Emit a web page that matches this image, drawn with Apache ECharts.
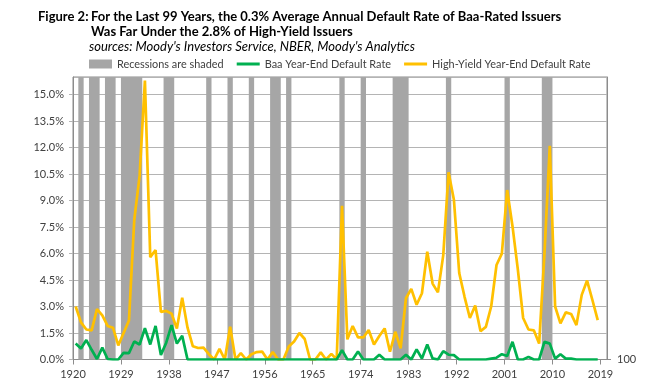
<!DOCTYPE html>
<html><head><meta charset="utf-8">
<script src="https://cdn.jsdelivr.net/npm/echarts@6/dist/echarts.min.js"></script>
<style>html,body{margin:0;padding:0;background:#fff}#c{width:670px;height:389px}</style>
</head><body><div id="c"></div>
<script>
const firstYear = 1920;
const tickYears = [1920, 1929, 1938, 1947, 1956, 1965, 1974, 1983, 1992, 2001, 2010, 2019];
const recessionYears = [1921, 1923, 1924, 1926, 1927, 1929, 1930, 1931, 1932, 1937, 1938, 1945, 1949, 1953, 1957, 1958, 1960, 1970, 1974, 1980, 1981, 1982, 1990, 2001, 2008, 2009];
// High-yield year-end default rate (%), 1920..2018
const hyRate = [
  3.0, 2.1, 1.7, 1.65, 2.85, 2.5, 1.9, 1.8, 0.8, 1.5,
  2.2, 7.9, 10.4, 15.8, 5.8, 6.2, 2.7, 2.75, 2.6, 1.75,
  3.5, 1.8, 0.75, 0.65, 0.67, 0.3, 0.0, 0.6, 0.0, 1.85,
  0.0, 0.36, 0.0, 0.3, 0.42, 0.45, 0.0, 0.42, 0.0, 0.0,
  0.74, 1.02, 1.5, 1.16, 0.0, 0.0, 0.4, 0.0, 0.32, 0.0,
  8.7, 1.14, 1.9, 1.25, 1.25, 1.67, 0.85, 1.33, 1.76, 0.44,
  1.57, 0.63, 3.47, 4.0, 3.1, 3.75, 6.1, 4.3, 3.8, 5.9,
  10.6, 9.05, 4.9, 3.55, 2.35, 3.05, 1.6, 1.85, 3.0, 5.35,
  6.0, 9.6, 7.55, 5.1, 2.35, 1.7, 1.65, 0.9, 6.0, 12.1,
  3.0, 2.05, 2.67, 2.58, 1.95, 3.66, 4.47, 3.37, 2.23
];
// Baa year-end default rate (%), 1920..2018
const baaRate = [
  0.9, 0.62, 1.1, 0.55, 0.03, 0.67, 0.03, 0.0, 0.0, 0.38,
  0.36, 1.02, 0.85, 1.77, 0.85, 1.9, 0.26, 0.95, 1.94, 0.9,
  1.34, 0.0, 0.0, 0.0, 0.0, 0.0, 0.0, 0.0, 0.0, 0.0,
  0.0, 0.0, 0.0, 0.0, 0.0, 0.0, 0.0, 0.0, 0.0, 0.0,
  0.0, 0.0, 0.0, 0.0, 0.0, 0.0, 0.0, 0.0, 0.0, 0.0,
  0.53, 0.0, 0.0, 0.45, 0.0, 0.0, 0.0, 0.27, 0.0, 0.0,
  0.0, 0.0, 0.27, 0.0, 0.57, 0.06, 0.85, 0.06, 0.0, 0.47,
  0.27, 0.25, 0.0, 0.0, 0.0, 0.0, 0.0, 0.0, 0.05, 0.1,
  0.3, 0.2, 1.0, 0.0, 0.0, 0.15, 0.0, 0.0, 1.0, 0.9,
  0.05, 0.3, 0.05, 0.05, 0.0, 0.0, 0.0, 0.0, 0.0
];
const years = hyRate.map((_, i) => firstYear + i);

// merge consecutive recession years into ranges
const ranges = [];
recessionYears.forEach(y => {
  const last = ranges[ranges.length - 1];
  if (last && last[1] === y) last[1] = y + 1; else ranges.push([y, y + 1]);
});

const FONT = 'Lato';
const LINE_ICON = 'path://M0,0L0.01,0Z M0,3L23,3L23,6L0,6Z M0,9L0.01,9Z';
const chart = echarts.init(document.getElementById('c'), null, {renderer: 'canvas'});
chart.setOption({
  animation: false,
  backgroundColor: '#ffffff',
  textStyle: {fontFamily: FONT},
  graphic: [
    {type: 'text', x: 38, y: 17, style: {text: 'Figure 2:', font: 'bold 13px ' + FONT, fill: '#000', verticalAlign: 'middle'}},
    {type: 'text', x: 91, y: 17, style: {text: 'For the Last 99 Years, the 0.3% Average Annual Default Rate of Baa-Rated Issuers', font: 'bold 13px ' + FONT, fill: '#000', verticalAlign: 'middle'}},
    {type: 'text', x: 91, y: 32, style: {text: 'Was Far Under the 2.8% of High-Yield Issuers', font: 'bold 13px ' + FONT, fill: '#000', verticalAlign: 'middle'}},
    {type: 'text', x: 89, y: 47, style: {text: "sources: Moody's Investors Service, NBER, Moody's Analytics", font: 'italic 13px ' + FONT, fill: '#000', verticalAlign: 'middle'}}
  ],
  legend: {
    left: 89, top: 58.5, padding: 0,
    itemWidth: 23, itemHeight: 9, itemGap: 13,
    textStyle: {fontSize: 10.9, color: '#404040', fontFamily: FONT},
    data: [
      {name: 'Recessions are shaded', icon: 'rect'},
      {name: 'Baa Year-End Default Rate', icon: LINE_ICON},
      {name: 'High-Yield Year-End Default Rate', icon: LINE_ICON}
    ]
  },
  grid: {left: 73, right: 63, top: 77, bottom: 29.5, show: true, borderColor: '#8c8c8c', borderWidth: 1, containLabel: false},
  xAxis: {
    type: 'value', min: firstYear, max: 2020.24,
    splitLine: {show: false},
    axisLine: {show: true, lineStyle: {color: '#8c8c8c'}},
    axisTick: {show: true, length: 5, lineStyle: {color: '#8c8c8c'}, customValues: tickYears},
    axisLabel: {color: '#404040', fontSize: 11, margin: 9, customValues: tickYears, formatter: v => String(v)}
  },
  yAxis: [{
    type: 'value', min: 0, max: 16, interval: 1.5,
    axisLine: {show: true, lineStyle: {color: '#8c8c8c'}},
    axisTick: {show: true, length: 4, lineStyle: {color: '#b4b4b4'}},
    splitLine: {show: true, lineStyle: {color: '#b4b4b4', width: 1}},
    axisLabel: {color: '#404040', fontSize: 11, margin: 9, showMaxLabel: false, formatter: v => v.toFixed(1) + '%'}
  }, {
    type: 'value', min: 0, max: 100, position: 'right',
    axisLine: {show: true, lineStyle: {color: '#8c8c8c'}},
    splitLine: {show: false},
    axisTick: {show: true, length: 4, lineStyle: {color: '#8c8c8c'}, customValues: [0]},
    axisLabel: {color: '#404040', fontSize: 11, margin: 10, customValues: [0], formatter: () => '100'}
  }],
  series: [
    {
      name: 'Recessions are shaded', type: 'bar', yAxisIndex: 1, data: [],
      itemStyle: {color: '#a6a6a6'}, z: 1,
      markArea: {
        silent: true,
        itemStyle: {color: '#a6a6a6', opacity: 1},
        data: ranges.map(r => [{xAxis: r[0]}, {xAxis: r[1]}])
      }
    },
    {
      name: 'High-Yield Year-End Default Rate', type: 'line', symbol: 'none', z: 3,
      itemStyle: {color: '#ffc000'}, lineStyle: {color: '#ffc000', width: 2.7},
      data: years.map((y, i) => [y + 0.5, hyRate[i]])
    },
    {
      name: 'Baa Year-End Default Rate', type: 'line', symbol: 'none', z: 4,
      itemStyle: {color: '#00b050'}, lineStyle: {color: '#00b050', width: 2.7},
      data: years.map((y, i) => [y + 0.5, baaRate[i]])
    }
  ]
});
</script></body></html>
